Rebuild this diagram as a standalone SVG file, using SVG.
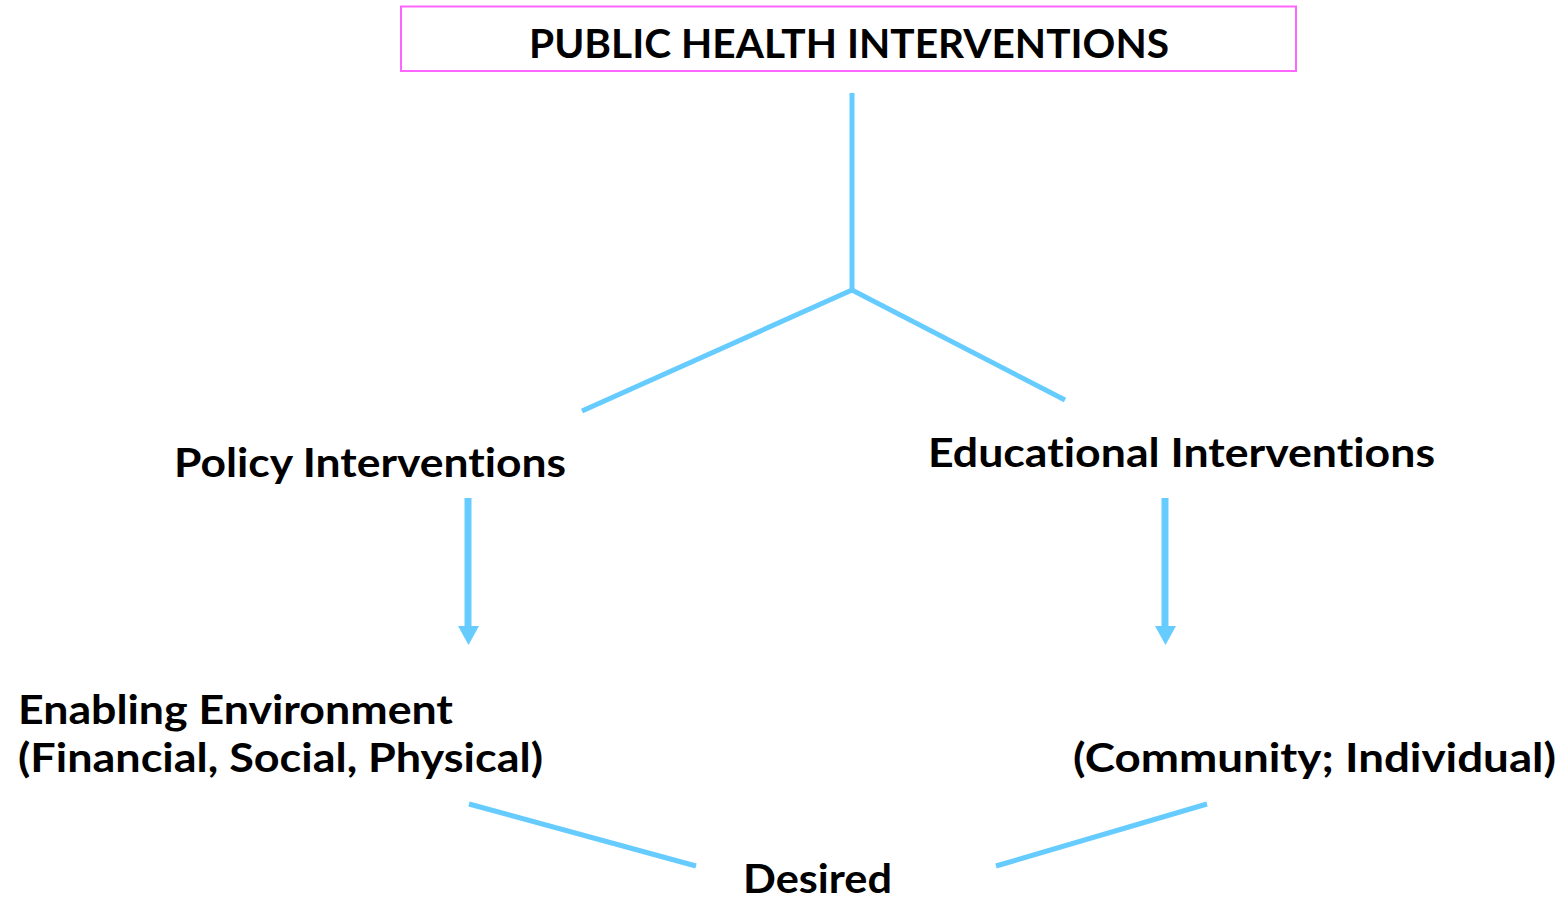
<svg xmlns="http://www.w3.org/2000/svg" width="1562" height="899" viewBox="0 0 1562 899">
  <defs>
    <style>
      text { font-family: Lato, "Open Sans", "Liberation Sans", sans-serif; font-weight: 700; font-size: 40px; fill: #000; font-variant-ligatures: none; }
      .link { stroke: #66ccff; stroke-width: 5; fill: none; }
      .shaft { stroke: #66ccff; stroke-width: 7; fill: none; }
      .head { fill: #66ccff; }
    </style>
  </defs>
  <rect width="1562" height="899" fill="#ffffff"/>

  <!-- connectors -->
  <g id="connectors">
    <line class="link" x1="852" y1="93" x2="852" y2="290"/>
    <polyline class="link" points="582,411 852,290 1065,400"/>
    <line class="shaft" x1="468" y1="498" x2="468" y2="628"/>
    <polygon class="head" points="458,626 479,626 468.5,645"/>
    <line class="shaft" x1="1165" y1="498" x2="1165" y2="628"/>
    <polygon class="head" points="1155,626 1176,626 1165.5,645"/>
    <line class="link" x1="469" y1="804" x2="696" y2="866"/>
    <line class="link" x1="996" y1="866" x2="1207" y2="804"/>
  </g>

  <g id="node-title">
    <rect x="401" y="6.5" width="895" height="64.5" fill="#ffffff" stroke="#ff66ff" stroke-width="2"/>
    <text x="529" y="58" textLength="640" lengthAdjust="spacingAndGlyphs">PUBLIC HEALTH INTERVENTIONS</text>
  </g>

  <g id="node-policy">
    <text x="174" y="477" textLength="392" lengthAdjust="spacingAndGlyphs">Policy Interventions</text>
  </g>

  <g id="node-educational">
    <text x="928" y="467" textLength="507" lengthAdjust="spacingAndGlyphs">Educational Interventions</text>
  </g>

  <g id="node-enabling">
    <text x="18" y="724" textLength="435" lengthAdjust="spacingAndGlyphs">Enabling Environment</text>
    <text x="18" y="772" textLength="525" lengthAdjust="spacingAndGlyphs">(Financial, Social, Physical)</text>
  </g>

  <g id="node-community">
    <text x="1073" y="772" textLength="483" lengthAdjust="spacingAndGlyphs">(Community; Individual)</text>
  </g>

  <g id="node-desired">
    <text x="743" y="893" textLength="149" lengthAdjust="spacingAndGlyphs">Desired</text>
  </g>
</svg>
